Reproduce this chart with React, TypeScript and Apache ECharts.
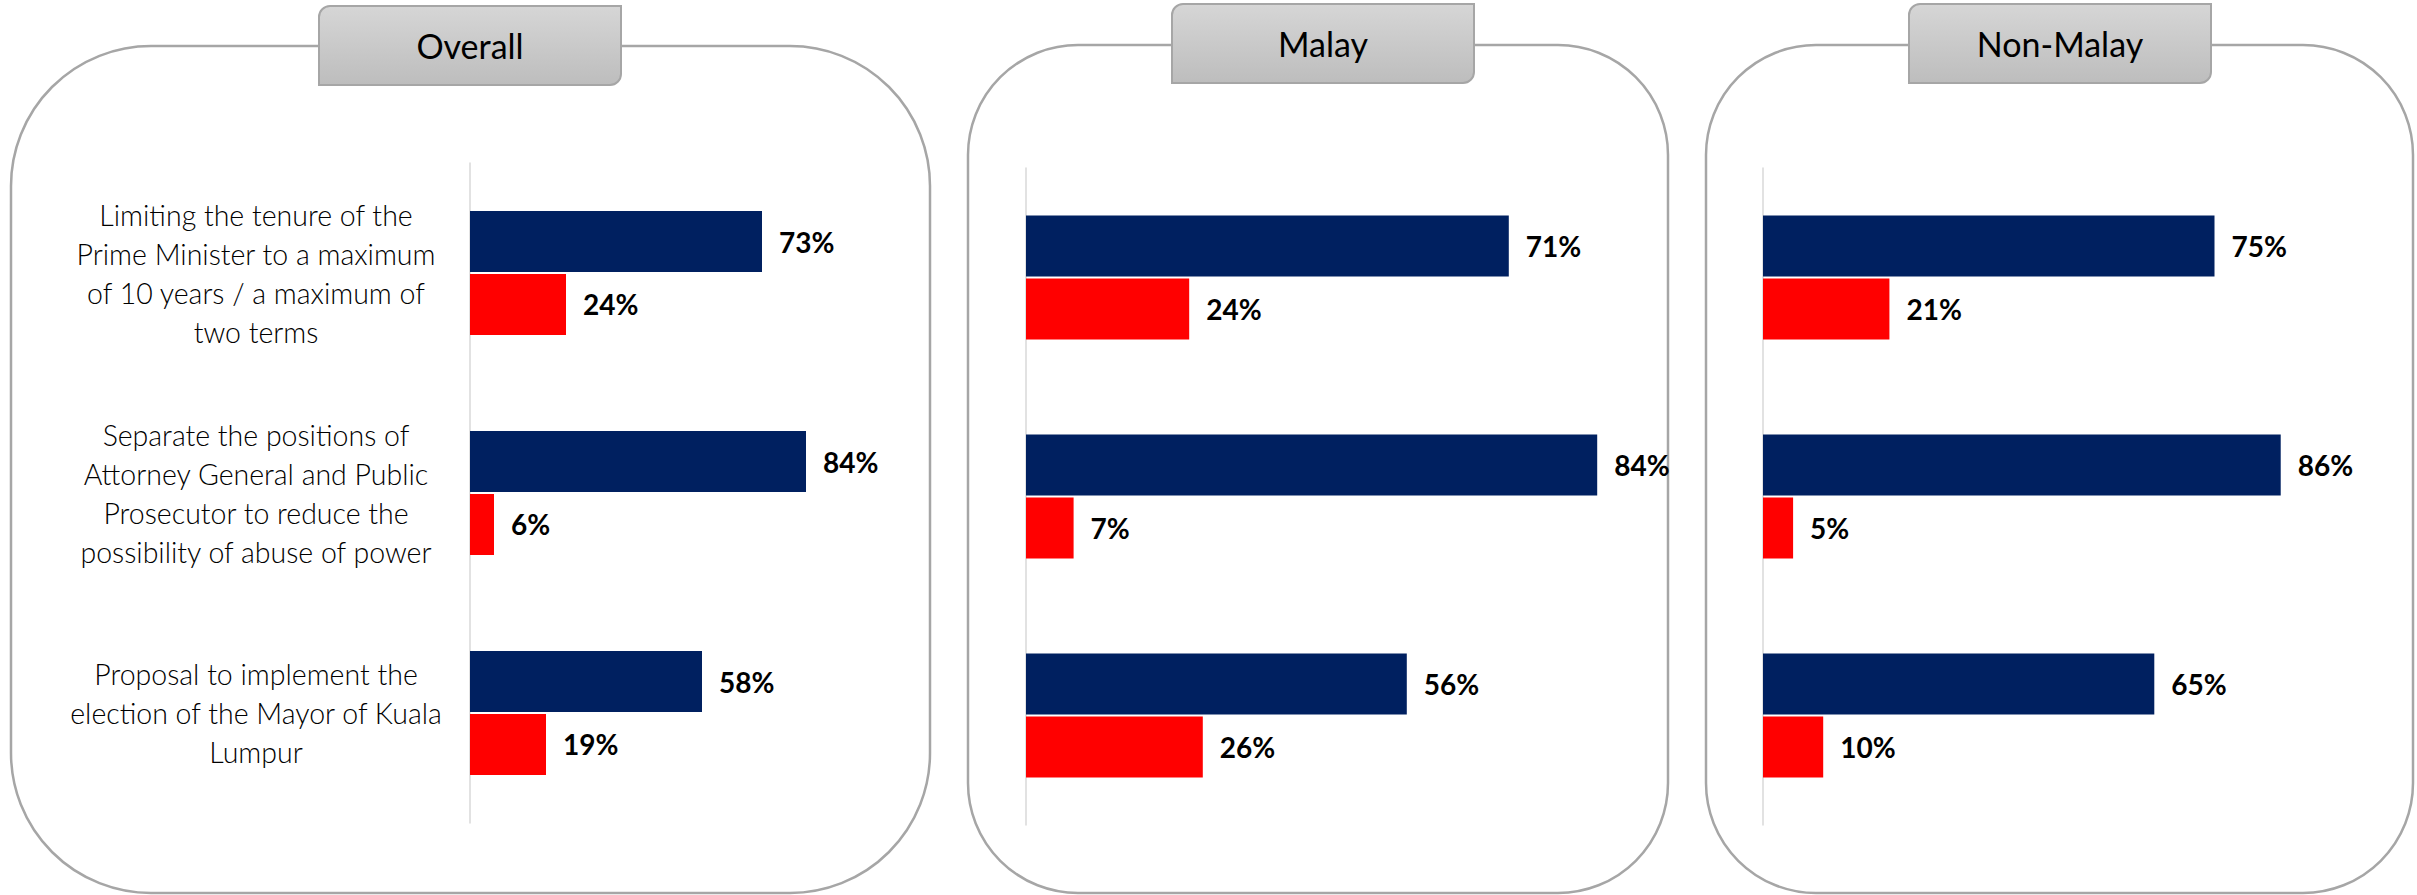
import React, { useEffect, useRef } from "react";
import * as echarts from "echarts";

const categories = [
  "Limiting the tenure of the\nPrime Minister to a maximum\nof 10 years / a maximum of\ntwo terms",
  "Separate the positions of\nAttorney General and Public\nProsecutor to reduce the\npossibility of abuse of power",
  "Proposal to implement the\nelection of the Mayor of Kuala\nLumpur",
];
const panelTitles = ["Overall", "Malay", "Non-Malay"];
const overallAgree = [73, 84, 58];
const overallDisagree = [24, 6, 19];
const malayAgree = [71, 84, 56];
const malayDisagree = [24, 7, 26];
const nonMalayAgree = [75, 86, 65];
const nonMalayDisagree = [21, 5, 10];

const NAVY = "#002060";
const RED = "#ff0000";
const FONT = "Lato, 'Open Sans', sans-serif";

export default function App() {
  const ref = useRef<HTMLDivElement>(null);
  useEffect(() => {
    if (!ref.current) return;
    const chart = echarts.init(ref.current, null, { renderer: "svg" });

    const grids = [
      { left: 470, top: 163, width: 400, height: 660 },
      { left: 1026, top: 168, width: 680, height: 657 },
      { left: 1763, top: 168, width: 602, height: 657 },
    ];
    const data = [
      [overallAgree, overallDisagree],
      [malayAgree, malayDisagree],
      [nonMalayAgree, nonMalayDisagree],
    ];
    const panels = [
      { x: 11, y: 46, w: 919, h: 847, r: 140, tab: [319, 6, 302, 79] },
      { x: 968, y: 45, w: 700, h: 848, r: 110, tab: [1172, 4, 302, 79] },
      { x: 1706, y: 45, w: 707, h: 848, r: 110, tab: [1909, 4, 302, 79] },
    ];

    const graphics: any[] = [];
    panels.forEach((p, i) => {
      graphics.push({
        type: "rect",
        z: 0,
        shape: { x: p.x, y: p.y, width: p.w, height: p.h, r: p.r },
        style: { fill: "#ffffff", stroke: "#a6a6a6", lineWidth: 2.5 },
      });
      const [tx, ty, tw, th] = p.tab;
      graphics.push({
        type: "rect",
        z: 10,
        shape: { x: tx, y: ty, width: tw, height: th, r: [11, 0, 11, 0] },
        style: {
          fill: new echarts.graphic.LinearGradient(0, 0, 0, 1, [
            { offset: 0, color: "#d6d6d6" },
            { offset: 1, color: "#bdbdbd" },
          ]),
          stroke: "#a6a6a6",
          lineWidth: 2,
        },
      });
      graphics.push({
        type: "text",
        z: 11,
        x: tx + tw / 2,
        y: ty + th / 2,
        style: {
          text: panelTitles[i],
          font: `34px ${FONT}`,
          fill: "#000000",
          align: "center",
          verticalAlign: "middle",
        },
      });
    });

    const series: any[] = [];
    data.forEach((pair, i) => {
      pair.forEach((vals, j) => {
        series.push({
          type: "bar",
          name: (j === 0 ? "Agree " : "Disagree ") + panelTitles[i],
          xAxisIndex: i,
          yAxisIndex: i,
          data: vals,
          barWidth: 61,
          barGap: "3%",
          z: 5,
          itemStyle: { color: j === 0 ? NAVY : RED },
          label: {
            show: true,
            position: "right",
            distance: 17,
            formatter: "{c}%",
            fontFamily: FONT,
            fontWeight: "bold",
            fontSize: 28,
            color: "#000000",
          },
        });
      });
    });

    chart.setOption({
      animation: false,
      backgroundColor: "#ffffff",
      graphic: graphics,
      grid: grids.map((g) => ({ ...g, containLabel: false, z: 4 })),
      xAxis: grids.map((_, i) => ({
        type: "value",
        gridIndex: i,
        min: 0,
        max: 100,
        show: false,
      })),
      yAxis: grids.map((_, i) => ({
        type: "category",
        gridIndex: i,
        inverse: true,
        data: categories,
        z: 5,
        axisLine: { show: true, lineStyle: { color: "#d9d9d9", width: 1.5 } },
        axisTick: { show: false },
        splitLine: { show: false },
        axisLabel: {
          show: i === 0,
          align: "center",
          margin: 214,
          fontFamily: FONT,
          fontWeight: 300,
          fontSize: 28.5,
          lineHeight: 39,
          color: "#000000",
        },
      })),
      series,
    });

    return () => chart.dispose();
  }, []);

  return (
    <div
      ref={ref}
      style={{ position: "fixed", left: 0, top: 0, width: 2417, height: 895 }}
    />
  );
}
